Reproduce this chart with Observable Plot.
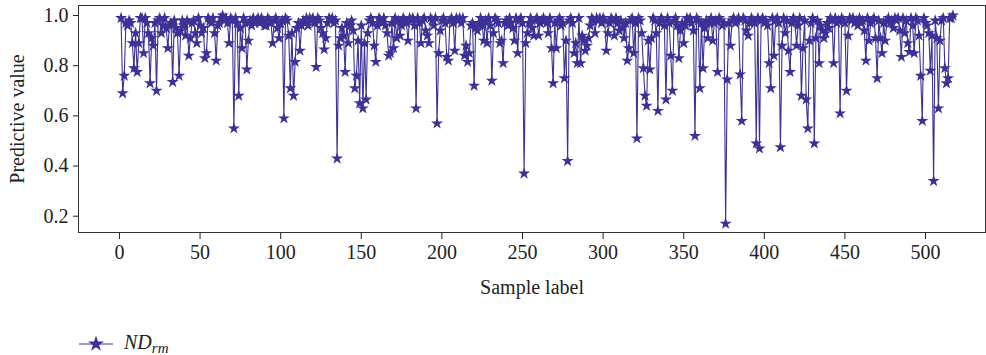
<!DOCTYPE html>
<html>
<head>
<meta charset="utf-8">
<script src="https://cdn.jsdelivr.net/npm/d3@7"></script>
<script src="https://cdn.jsdelivr.net/npm/@observablehq/plot@0.6"></script>
<style>
  html, body { margin: 0; padding: 0; background: #fff; }
  #wrap { position: relative; width: 986px; height: 355px; font-family: "Liberation Serif", "DejaVu Serif", serif; }
  #legend { position: absolute; left: 78px; top: 331px; display: flex; align-items: center; font-size: 20px; color: #222; }
  #legend span { font-style: italic; margin-left: 10px; }
  #legend sub { font-size: 15px; vertical-align: -4px; }
</style>
</head>
<body>
<div id="wrap"><div id="chart"></div><div id="legend"></div></div>
<script>
// Sample labels run 1..517
const vals001 = [0.99,0.69,0.76,0.97,0.96,0.98,0.97,0.89,0.79,0.93,0.775,0.89,0.99,0.99,0.85,0.99,0.97,0.93,0.73,0.91,
  0.88,0.97,0.70,0.98,0.99,0.93,0.96,0.99,0.95,0.87,0.96,0.97,0.735,0.98,0.95,0.93,0.76,0.94,0.98,0.96,
  0.92,0.98,0.84,0.91,0.97,0.98,0.93,0.89,0.99,0.96,0.93,0.95,0.83,0.85,0.99,0.98,0.97,0.99,0.93,0.82,
  0.96,0.97,0.99,1.00,0.98,0.99,0.97,0.89,0.99,0.98,0.55,0.99,0.97,0.68,0.95,0.87,0.99,0.97,0.785,0.90,
  0.98,0.96,0.99,0.97,0.98,0.99,0.97,0.99,0.98,0.96,0.96,0.99,0.98,0.97,0.89,0.98,0.99,0.95,0.91,0.97];
const vals101 = [0.98,0.59,0.99,0.98,0.92,0.71,0.93,0.68,0.815,0.95,0.97,0.86,0.96,0.98,0.97,0.99,0.96,0.99,0.98,0.99,
  0.97,0.795,0.99,0.98,0.95,0.93,0.865,0.91,0.97,0.99,0.98,0.99,0.97,0.98,0.43,0.88,0.91,0.95,0.92,0.775,
  0.97,0.89,0.96,0.98,0.94,0.71,0.76,0.90,0.65,0.96,0.63,0.89,0.665,0.93,0.98,0.99,0.97,0.88,0.815,0.96,
  0.99,0.98,0.97,0.99,0.96,0.93,0.84,0.85,0.97,0.87,0.99,0.91,0.98,0.92,0.96,0.99,0.98,0.97,0.90,0.99,
  0.98,0.99,0.96,0.63,0.99,0.97,0.89,0.98,0.99,0.94,0.92,0.89,0.99,0.98,0.96,0.99,0.57,0.85,0.94,0.98];
const vals201 = [0.99,0.97,0.835,0.82,0.98,0.99,0.97,0.86,0.99,0.98,0.99,0.97,0.99,0.84,0.88,0.815,0.85,0.96,0.97,0.72,
  0.95,0.94,0.97,0.99,0.96,0.90,0.98,0.89,0.99,0.96,0.74,0.93,0.99,0.98,0.97,0.89,0.90,0.81,0.97,0.98,
  0.96,0.99,0.97,0.95,0.90,0.99,0.85,0.98,0.99,0.97,0.37,0.89,0.93,0.97,0.99,0.95,0.92,0.98,0.99,0.92,
  0.97,0.98,0.99,0.98,0.97,0.93,0.99,0.87,0.73,0.97,0.87,0.98,0.99,0.96,0.97,0.75,0.90,0.42,0.98,0.99,
  0.97,0.85,0.89,0.81,0.99,0.81,0.92,0.90,0.86,0.88,0.91,0.96,0.99,0.98,0.93,0.99,0.98,0.99,0.97,0.99];
const vals301 = [0.98,0.86,0.93,0.97,0.99,0.98,0.92,0.99,0.97,0.94,0.98,0.95,0.91,0.97,0.82,0.87,0.98,0.99,0.85,0.97,
  0.51,0.99,0.98,0.93,0.79,0.68,0.64,0.90,0.785,0.91,0.99,0.98,0.93,0.62,0.97,0.99,0.98,0.96,0.665,0.99,
  0.97,0.84,0.70,0.98,0.99,0.96,0.83,0.94,0.97,0.89,0.96,0.99,0.98,0.99,0.97,0.94,0.52,0.99,0.98,0.71,
  0.97,0.79,0.95,0.98,0.91,0.97,0.99,0.90,0.97,0.98,0.775,0.99,0.98,0.96,0.97,0.17,0.745,0.97,0.88,0.98,
  0.99,0.97,0.98,0.99,0.765,0.58,0.99,0.98,0.94,0.92,0.97,0.99,0.98,0.97,0.49,0.99,0.47,0.98,0.99,0.97];
const vals401 = [0.98,0.96,0.81,0.71,0.99,0.84,0.98,0.99,0.97,0.475,0.88,0.99,0.93,0.98,0.86,0.775,0.97,0.99,0.98,0.88,
  0.96,0.99,0.68,0.87,0.98,0.665,0.55,0.90,0.97,0.99,0.49,0.91,0.98,0.81,0.96,0.94,0.91,0.93,0.97,0.95,
  0.99,0.98,0.81,0.99,0.97,0.98,0.61,0.99,0.98,0.97,0.70,0.92,0.99,0.98,0.99,0.97,0.98,0.96,0.99,0.97,
  0.98,0.94,0.82,0.99,0.90,0.97,0.98,0.99,0.91,0.75,0.98,0.91,0.85,0.97,0.90,0.98,0.99,0.97,0.98,0.95,
  0.99,0.98,0.99,0.94,0.835,0.99,0.93,0.98,0.89,0.855,0.99,0.96,0.85,0.99,0.98,0.92,0.76,0.58,0.99,0.97];
const vals501 = [0.96,0.93,0.78,0.92,0.34,0.98,0.91,0.63,0.90,0.98,0.99,0.79,0.73,0.75,0.99,0.99,1.00];

const xTicks = [0, 50, 100, 150, 200, 250, 300, 350, 400, 450, 500];
const yTicks = [0.2, 0.4, 0.6, 0.8, 1.0];
const seriesName = "ND";
const seriesSub = "rm";
const color = "#3b3196";

const values = [...vals001, ...vals101, ...vals201, ...vals301, ...vals401, ...vals501];
const data = values.map((v, i) => ({sample: i + 1, value: v}));

const chart = Plot.plot({
  width: 986,
  height: 315,
  marginLeft: 78,
  marginRight: 1,
  marginTop: 5,
  marginBottom: 83,
  x: {domain: [-25.4, 537.2]},
  y: {domain: [0.135, 1.04]},
  style: {fontFamily: "Liberation Serif, DejaVu Serif, serif", fontSize: "20px", color: "#222", background: "#fff"},
  marks: [
    Plot.frame({stroke: "#333", strokeWidth: 1}),
    Plot.axisX({ticks: xTicks, tickSize: 7, tickPadding: 5, label: "Sample label", labelAnchor: "center", labelOffset: 61, labelArrow: "none", fontSize: 20}),
    Plot.axisY({ticks: yTicks, tickFormat: d3.format(".1f"), tickSize: 5, tickPadding: 5, label: "Predictive value", labelAnchor: "center", labelOffset: 69, labelArrow: "none", fontSize: 20}),
    Plot.line(data, {x: "sample", y: "value", stroke: color, strokeWidth: 1.1}),
    Plot.dot(data, {x: "sample", y: "value", symbol: "star", fill: color, stroke: "none", r: 3.8})
  ]
});
document.getElementById("chart").appendChild(chart);

// legend
const leg = document.getElementById("legend");
const ns = "http://www.w3.org/2000/svg";
const ls = document.createElementNS(ns, "svg");
ls.setAttribute("width", 36); ls.setAttribute("height", 20);
const ln = document.createElementNS(ns, "line");
ln.setAttribute("x1", 1); ln.setAttribute("x2", 35); ln.setAttribute("y1", 10); ln.setAttribute("y2", 10);
ln.setAttribute("stroke", color); ln.setAttribute("stroke-width", 1.2);
ls.appendChild(ln);
const st = document.createElementNS(ns, "path");
st.setAttribute("d", d3.symbol(d3.symbolStar, 80)());
st.setAttribute("transform", "translate(18,10)");
st.setAttribute("fill", color);
ls.appendChild(st);
leg.appendChild(ls);
const lab = document.createElement("span");
lab.innerHTML = seriesName + "<sub>" + seriesSub + "</sub>";
leg.appendChild(lab);
</script>
</body>
</html>
